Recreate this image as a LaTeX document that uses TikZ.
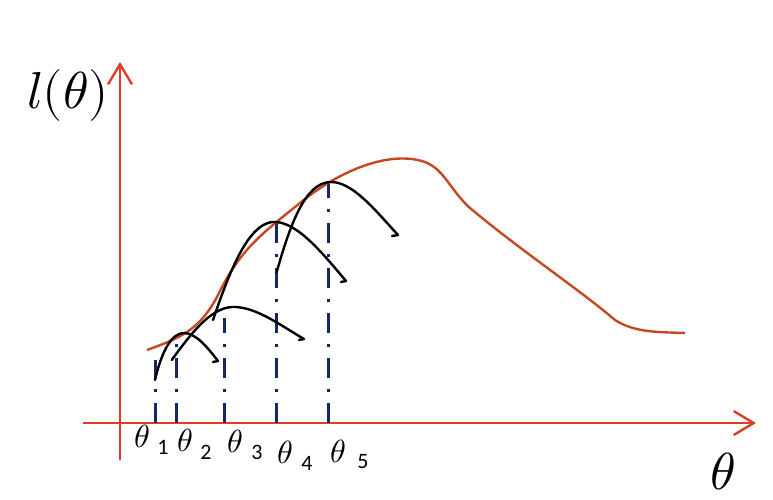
\documentclass[tikz,border=0pt]{standalone}
\usepackage{unicode-math}
\setmathfont{Latin Modern Math}
\newfontfamily\digitfont{Carlito}
\usetikzlibrary{arrows.meta}
\definecolor{axisred}{RGB}{222,60,40}
\definecolor{curvered}{RGB}{196,72,34}
\definecolor{navy}{RGB}{22,40,100}
\tikzset{
  axis/.style={draw=axisred, line width=2.4pt, -{Straight Barb[length=20pt,width=24pt,line width=2.4pt]}},
  lcurve/.style={draw=curvered, line width=2.4pt},
  guide/.style={draw=navy, line width=3pt, dash pattern=on 20pt off 11pt on 3pt off 11pt},
  approx/.style={draw=black, line width=2.4pt, line cap=round, line join=round},
  tlab/.style={inner sep=0pt, font=\fontsize{32}{34}\selectfont},
  sublab/.style={inner sep=0pt, font=\digitfont\fontsize{22}{24}\selectfont},
  biglab/.style={inner sep=0pt, font=\fontsize{52}{56}\selectfont}
}
\begin{document}
\begin{tikzpicture}[x=1pt,y=-1pt]
\useasboundingbox (0,0) rectangle (773,499);
% axes
\coordinate (yb) at (120,460);
\coordinate (yt) at (120,62);
\coordinate (xl) at (83,423);
\coordinate (xr) at (756,423);
\draw[axis] (yb) -- (yt);
\draw[axis] (xl) -- (xr);
% guide lines
\foreach \n/\x/\t in {1/155/360, 2/176.7/335, 3/224/318, 4/276.7/222, 5/328/183}{
  \coordinate (g\n b) at (\x,423);
  \coordinate (g\n t) at (\x,\t);
  \draw[guide] (g\n b) -- (g\n t);
}
% likelihood curve
\draw[lcurve] (147,350) .. controls (180,338) and (200,330) .. (218,295)
  .. controls (240,250) and (260,235) .. (300,203)
  .. controls (340,170) and (390,150) .. (425,162)
  .. controls (445,170) and (450,190) .. (470,208)
  .. controls (520,250) and (580,290) .. (615,320)
  .. controls (635,333) and (660,332) .. (685,333);
% approximating arcs
\draw[approx] (155,380) .. controls (162,350) and (172,333) .. (184,333)
  .. controls (196,333) and (208,348) .. (218,361) -- (213,362);
\draw[approx] (171.7,360) .. controls (190,335) and (210,308) .. (232,307)
  .. controls (255,306) and (280,325) .. (304,339) -- (299,340);
\draw[approx] (213,320) .. controls (230,270) and (248,225) .. (272,222)
  .. controls (295,220) and (320,250) .. (346,281) -- (341,282);
\draw[approx] (276.7,272) .. controls (290,225) and (305,183) .. (330,182)
  .. controls (352,181) and (375,210) .. (398,235) -- (392,236);
% labels
\node[biglab] (ly) at (68,95) {$l(\theta)$};
\node[biglab] (lx) at (723,471) {$\theta$};
\node[tlab] (t1) at (142,436) {$\theta$};
\node[sublab] (s1) at (163,447) {1};
\node[tlab] (t2) at (185,440) {$\theta$};
\node[sublab] (s2) at (206,452) {2};
\node[tlab] (t3) at (235,441) {$\theta$};
\node[sublab] (s3) at (257,452) {3};
\node[tlab] (t4) at (285,452) {$\theta$};
\node[sublab] (s4) at (307,463) {4};
\node[tlab] (t5) at (338,451) {$\theta$};
\node[sublab] (s5) at (363,462) {5};
\end{tikzpicture}
\end{document}
